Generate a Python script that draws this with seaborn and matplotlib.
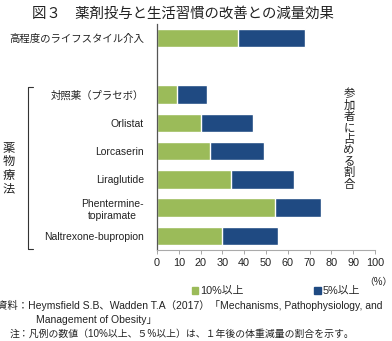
import matplotlib
matplotlib.use("Agg")
import matplotlib.pyplot as plt
from matplotlib.patches import Patch
from matplotlib.lines import Line2D
import seaborn as sns
import pandas as pd

sns.set_theme(style="white")
plt.rcParams["font.family"] = ["Liberation Sans", "Noto Sans CJK JP", "DejaVu Sans"]

# Data
categories = ["高程度のライフスタイル介入", "対照薬（プラセボ）", "Orlistat", "Lorcaserin",
              "Liraglutide", "Phentermine-\ntopiramate", "Naltrexone-bupropion"]
loss_10pct = [37, 9, 20, 24.5, 34, 54, 30]
loss_5pct = [68, 23, 44, 49, 63, 75, 55.5]
x_ticks = list(range(0, 101, 10))

GREEN = "#9bbb59"
BLUE = "#1f4a82"
SPACER = " "

df = pd.DataFrame({"cat": categories, "ten": loss_10pct, "five": loss_5pct})
order = [categories[0], SPACER] + categories[1:]

W, H = 392, 341
fig = plt.figure(figsize=(W / 100, H / 100), dpi=100)


def fx(px):
    return px / W


def fy(py):
    return 1 - py / H


ax = fig.add_axes([fx(157), fy(250), fx(375) - fx(157), fy(24) - fy(250)])

sns.barplot(data=df, y="cat", x="five", order=order, color=BLUE, orient="h",
            width=0.66, saturation=1, ax=ax)
sns.barplot(data=df, y="cat", x="ten", order=order, color=GREEN, orient="h",
            width=0.66, saturation=1, ax=ax)

ax.set_xlim(0, 100)
ax.set_ylim(len(order) - 0.5, -0.5)
ax.set_xticks(x_ticks)
ax.set_xticklabels([str(t) for t in x_ticks], fontsize=7.8, color="#222222")
ax.set_yticks(range(len(order)))
ax.set_yticklabels([c if c != SPACER else "" for c in order], fontsize=7.5,
                   color="#222222", multialignment="center", linespacing=1.3)
ax.set_xlabel("")
ax.set_ylabel("")
ax.tick_params(axis="x", bottom=True, length=3, width=0.6, color="#999999", pad=3)
ax.tick_params(axis="y", left=False, pad=3.5)
for s in ["top", "right"]:
    ax.spines[s].set_visible(False)
ax.spines["left"].set_color("#555555")
ax.spines["left"].set_linewidth(0.9)
ax.spines["bottom"].set_color("#aaaaaa")
ax.spines["bottom"].set_linewidth(0.8)

# Title
fig.text(fx(183), fy(14), "図３　薬剤投与と生活習慣の改善との減量効果", ha="center", va="center",
         fontsize=10.4, color="#222222")

# Vertical axis caption on the right
fig.text(fx(349), fy(139), "\n".join("参加者に占める割合"), ha="center", va="center",
         fontsize=8.2, linespacing=1.09, color="#222222")

# Bracket grouping the drug therapies
fig.add_artist(Line2D([fx(33), fx(28), fx(28), fx(33)], [fy(87), fy(87), fy(249), fy(249)],
                      color="#333333", linewidth=0.8))
fig.text(fx(9), fy(169), "\n".join("薬物療法"), ha="center", va="center",
         fontsize=8.8, linespacing=1.15, color="#222222")

# Unit
fig.text(fx(378), fy(282), "（%）", ha="center", va="center", fontsize=7, color="#222222")

# Legend
handles = [Patch(color=GREEN, label="10%以上"), Patch(color=BLUE, label="5%以上")]
fig.legend(handles=handles, loc="center", bbox_to_anchor=(fx(276), fy(291)), ncol=2,
           frameon=False, fontsize=7.8, handlelength=0.6, handleheight=0.6,
           handletextpad=0.2, columnspacing=6.5)

# Source and notes
fig.text(fx(-3), fy(305), "資料：Heymsfield S.B、Wadden T.A（2017）「Mechanisms, Pathophysiology, and",
         ha="left", va="center", fontsize=7.5, color="#222222")
fig.text(fx(36), fy(320), "Management of Obesity」", ha="left", va="center",
         fontsize=7.5, color="#222222")
fig.text(fx(10), fy(334), "注：凡例の数値（10%以上、５%以上）は、１年後の体重減量の割合を示す。",
         ha="left", va="center", fontsize=7.1, color="#222222")

fig.savefig("out.png", dpi=100)
